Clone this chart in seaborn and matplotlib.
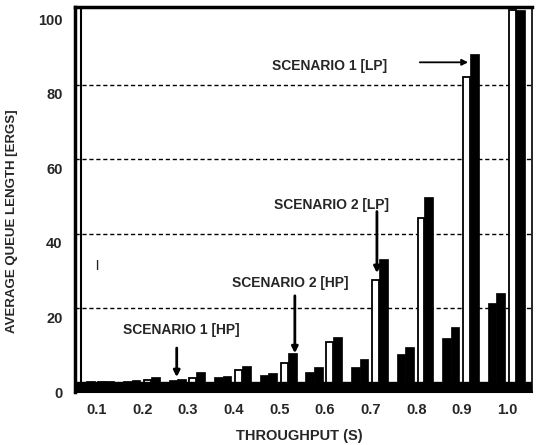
import matplotlib
matplotlib.use('Agg')
import matplotlib.pyplot as plt
import matplotlib.transforms as mtransforms
import seaborn as sns
import numpy as np

# values
throughput = [0.1, 0.2, 0.3, 0.4, 0.5, 0.6, 0.7, 0.8, 0.9, 1.0]
tick_labels = ['0.1', '0.2', '0.3', '0.4', '0.5', '0.6', '0.7', '0.8', '0.9', '1.0']
hp_a = [0.4, 0.6, 0.8, 1.6, 2.2, 3.0, 4.3, 7.8, 12.1, 21.4]
hp_b = [0.5, 0.8, 1.2, 2.0, 2.6, 4.3, 6.4, 9.7, 15.0, 24.1]
lp_white = [0.4, 0.8, 1.3, 3.5, 5.4, 11.0, 27.6, 44.2, 82.0, 100.0]
lp_black = [0.5, 1.6, 3.0, 4.6, 8.0, 12.3, 33.2, 49.9, 88.2, 100.0]

sns.set_theme(style='white')
plt.rcParams['font.family'] = ['Liberation Sans', 'DejaVu Sans']
plt.rcParams['font.weight'] = 'bold'

fig = plt.figure(figsize=(5.39, 4.45), dpi=100)
ax = fig.add_axes([0.139, 0.119, 0.848, 0.865])

t = np.array(throughput)
step = 0.1  # native_scale widths are relative to this spacing

# HP bars (left pair, drawn solid)
sns.barplot(x=t - 0.0335, y=hp_a, native_scale=True, width=0.019 / step, color='black',
            saturation=1, errorbar=None, ax=ax, edgecolor='black', linewidth=0.5)
sns.barplot(x=t - 0.0145, y=hp_b, native_scale=True, width=0.019 / step, color='black',
            saturation=1, errorbar=None, ax=ax, edgecolor='black', linewidth=0.5)
# LP bars (right pair, white + black)
sns.barplot(x=t + 0.0105, y=lp_white, native_scale=True, width=0.015 / step, color='white',
            saturation=1, errorbar=None, ax=ax, edgecolor='black', linewidth=1.3)
sns.barplot(x=t + 0.028, y=lp_black, native_scale=True, width=0.02 / step, color='black',
            saturation=1, errorbar=None, ax=ax, edgecolor='black', linewidth=0.5)

ax.set_xlim(0.0518, 1.054)
ax.set_ylim(-2.4, 100.8)

# dashed grid on the back wall
for g in [20, 40, 60, 80]:
    ax.axhline(g, color='black', lw=1.0, ls=(0, (3, 2)), zorder=0)
# floor slab and inner wall line
ax.axhspan(-2.4, 0.2, color='black', zorder=3)
ax.axvline(0.0518 + 0.013, color='black', lw=1.5, zorder=3)

ax.set_xticks(throughput)
ax.set_xticklabels(tick_labels)
ax.set_yticks([0, 20, 40, 60, 80, 100])
ax.set_yticklabels(['0', '20', '40', '60', '80', '100'])
ax.tick_params(axis='x', length=0, pad=8, labelsize=10.5)
ax.tick_params(axis='y', length=0, pad=9, labelsize=10.5)
for lab in ax.get_xticklabels() + ax.get_yticklabels():
    lab.set_fontweight('bold')
shift = mtransforms.ScaledTranslation(0, -9 / 100, fig.dpi_scale_trans)
for lab in ax.get_yticklabels():
    lab.set_transform(lab.get_transform() + shift)

for side in ['left', 'top']:
    ax.spines[side].set_linewidth(2.5)
ax.spines['right'].set_linewidth(1.2)
ax.spines['bottom'].set_linewidth(1.5)
for s in ax.spines.values():
    s.set_color('black')

ax.set_xlabel('THROUGHPUT (S)', fontsize=10.5, fontweight='bold')
ax.xaxis.set_label_coords(0.49, -0.095)
ax.set_ylabel('AVERAGE QUEUE LENGTH [ERGS]', fontsize=9.5, fontweight='bold')
ax.yaxis.set_label_coords(-0.125, 0.445)

txt = dict(fontsize=10, fontweight='bold', ha='center', va='center')
ax.text(0.611, 85, 'SCENARIO 1 [LP]', **txt)
ax.text(0.615, 47.7, 'SCENARIO 2 [LP]', **txt)
ax.text(0.523, 26.8, 'SCENARIO 2 [HP]', **txt)
ax.text(0.284, 14.2, 'SCENARIO 1 [HP]', **txt)
ax.text(0.1, 31.6, '|', fontsize=8, ha='center', va='center')

arr = dict(arrowstyle='-|>', color='black', lw=2, mutation_scale=9, shrinkA=0, shrinkB=0)
ax.annotate('', xy=(0.914, 86), xytext=(0.808, 86),
            arrowprops=dict(arrowstyle='-|>', color='black', lw=1.3, mutation_scale=9, shrinkA=0, shrinkB=0))
ax.annotate('', xy=(0.714, 29.5), xytext=(0.714, 46), arrowprops=arr)
ax.annotate('', xy=(0.534, 8.0), xytext=(0.534, 23.4), arrowprops=arr)
ax.annotate('', xy=(0.275, 1.6), xytext=(0.275, 9.4), arrowprops=arr)

fig.savefig('out.png', dpi=100)
